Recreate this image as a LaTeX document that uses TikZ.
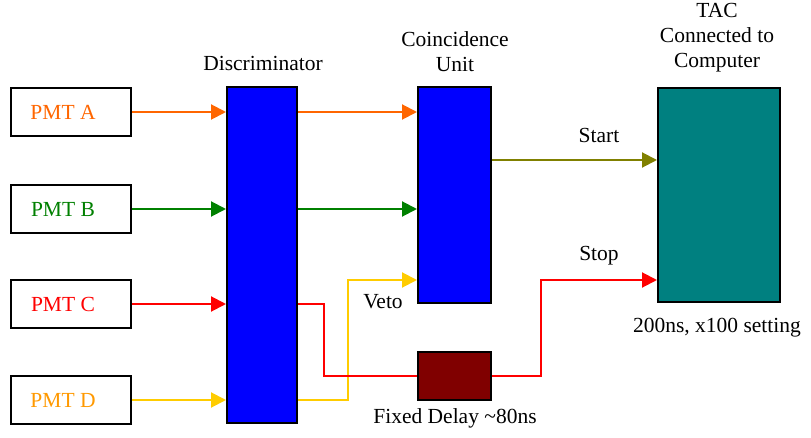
\documentclass[tikz,border=0pt]{standalone}
\usepackage{fontspec}
\setmainfont{Liberation Serif}
\usetikzlibrary{arrows.meta}
\definecolor{sigorange}{HTML}{FF6600}
\definecolor{sigamber}{HTML}{FF9900}
\definecolor{siggreen}{HTML}{008000}
\definecolor{sigred}{HTML}{FF0000}
\definecolor{sigyellow}{HTML}{FFCC00}
\definecolor{sigolive}{HTML}{808000}
\definecolor{unitblue}{HTML}{0000FF}
\definecolor{delaymaroon}{HTML}{800000}
\definecolor{tacteal}{HTML}{008080}
\begin{document}
\begin{tikzpicture}[x=1pt,y=-1pt,
  every node/.style={font=\fontsize{21.5}{25}\selectfont},
  unitbox/.style={draw=black,line width=2pt,inner sep=0pt},
  pmtbox/.style={unitbox,fill=white,minimum width=120pt,minimum height=48pt,
    execute at end node={\hspace*{16pt}}},
  lbl/.style={align=center,inner sep=0pt},
  wire/.style={line width=2pt},
  sig/.style={wire,-{Triangle[length=15pt,width=15pt]}}]
\useasboundingbox (0,0) rectangle (811,438);

% photomultiplier inputs
\node[pmtbox,text=sigorange] (pa) at (71,112) {PMT A};
\node[pmtbox,text=siggreen]  (pb) at (71,209) {PMT B};
\node[pmtbox,text=sigred]    (pc) at (71,304) {PMT C};
\node[pmtbox,text=sigamber]  (pd) at (71,400) {PMT D};

% electronics modules
\node[unitbox,fill=unitblue,minimum width=70pt,minimum height=336pt] (disc) at (262,255) {};
\node[unitbox,fill=unitblue,minimum width=73pt,minimum height=216pt] (cu) at (454.5,195) {};
\node[unitbox,fill=delaymaroon,minimum width=73pt,minimum height=48pt] (delay) at (454.5,376) {};
\node[unitbox,fill=tacteal,minimum width=122pt,minimum height=214pt] (tac) at (719,195) {};

% module captions
\node[lbl] (disclbl) at (263,63) {Discriminator};
\node[lbl] (culbl) at (455,52) {Coincidence\\Unit};
\node[lbl] (taclbl) at (717,38) {TAC\\Connected to\\Computer};
\node[lbl] (taclbl2) at (717,328) {200ns, x100 setting};
\node[lbl] (delaylbl) at (455,418) {Fixed Delay \textasciitilde80ns};
\node[lbl] (startlbl) at (599,135) {Start};
\node[lbl] (stoplbl) at (599,256) {Stop};
\node[lbl] (vetolbl) at (383,302) {Veto};

% signal levels
\coordinate (starty) at (0,160);
\coordinate (stopy) at (0,280);
\coordinate (vetoy) at (0,280);

% PMT to discriminator
\draw[sig,sigorange] (pa.east) -- (disc.west |- pa);
\draw[sig,siggreen]  (pb.east) -- (disc.west |- pb);
\draw[sig,sigred]    (pc.east) -- (disc.west |- pc);
\draw[sig,sigyellow] (pd.east) -- (disc.west |- pd);

% discriminator to coincidence unit
\draw[sig,sigorange] (disc.east |- pa) -- (cu.west |- pa);
\draw[sig,siggreen]  (disc.east |- pb) -- (cu.west |- pb);
\draw[sig,sigyellow] (disc.east |- pd) -- ++(50,0) |- (cu.west |- vetoy);

% delayed stop line
\draw[wire,sigred] (disc.east |- pc) -- ++(26,0) |- (delay.west);
\draw[sig,sigred] (delay.east) -- ++(49,0) |- (tac.west |- stopy);

% start line
\draw[sig,sigolive] (cu.east |- starty) -- (tac.west |- starty);
\end{tikzpicture}
\end{document}
